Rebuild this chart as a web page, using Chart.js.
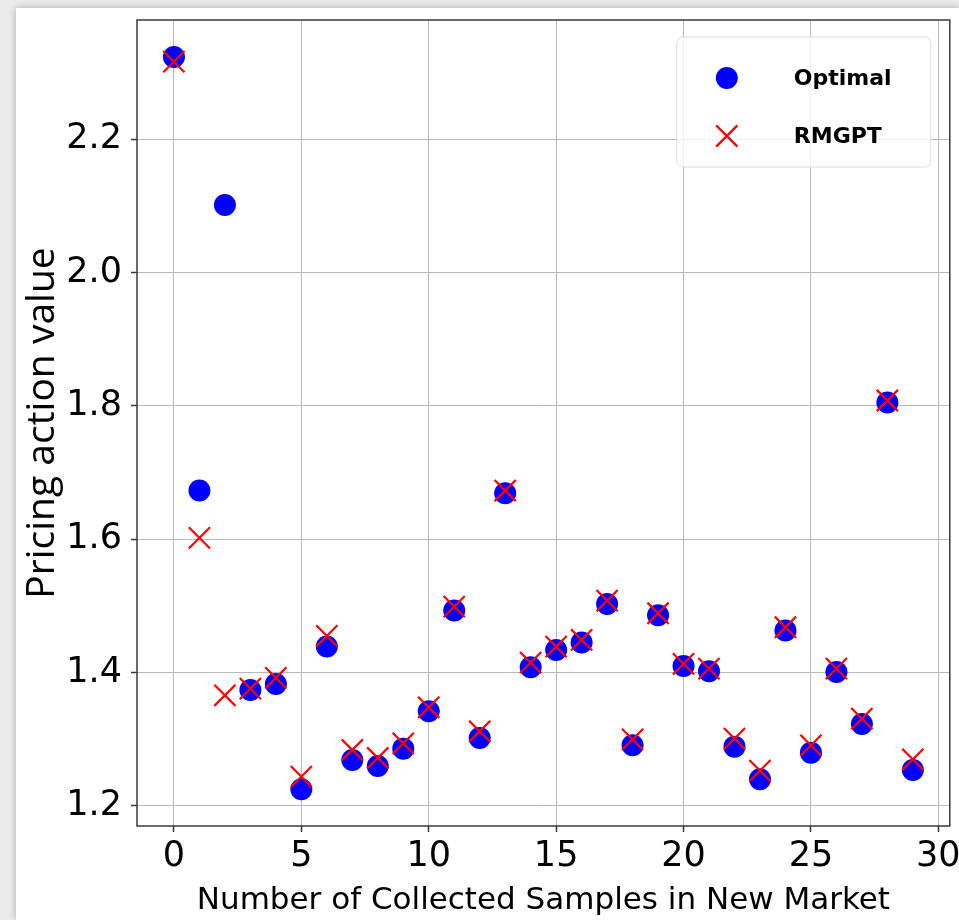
<!DOCTYPE html>
<html>
<head>
<meta charset="utf-8">
<script src="https://cdn.jsdelivr.net/npm/chart.js@4/dist/chart.umd.min.js"></script>
<style>
  html, body { margin: 0; padding: 0; background: #ebebeb; overflow: hidden; }
  #card {
    position: absolute; left: 16px; top: 8px; width: 943px; height: 912px;
    background: #fff; box-shadow: 0 0 7px rgba(0,0,0,0.28); overflow: hidden;
  }
  #pricingChart { position: absolute; left: 0; top: -18px; }
</style>
</head>
<body>
<div id="card"><canvas id="pricingChart" width="951" height="930"></canvas></div>
<script>
const samples = [0, 1, 2, 3, 4, 5, 6, 7, 8, 9, 10, 11, 12, 13, 14, 15, 16, 17, 18, 19, 20, 21, 22, 23, 24, 25, 26, 27, 28, 29];
const optimal = [2.323, 1.673, 2.101, 1.374, 1.383, 1.225, 1.439, 1.269, 1.260, 1.286, 1.342, 1.493, 1.302, 1.669, 1.408,
                 1.434, 1.445, 1.503, 1.291, 1.486, 1.410, 1.402, 1.289, 1.240, 1.463, 1.280, 1.401, 1.323, 1.805, 1.254];
const rmgpt = [2.316, 1.602, 1.366, 1.376, 1.392, 1.244, 1.455, 1.284, 1.272, 1.294, 1.348, 1.499, 1.312, 1.673, 1.415,
               1.439, 1.449, 1.508, 1.300, 1.489, 1.413, 1.406, 1.301, 1.253, 1.468, 1.291, 1.406, 1.331, 1.808, 1.270];
const xTicks = [0, 5, 10, 15, 20, 25, 30];
const yTicks = [1.2, 1.4, 1.6, 1.8, 2.0, 2.2];

const tickFont = { family: 'DejaVu Sans', size: 35 };

// frame around the plot area, like matplotlib spines
const framePlugin = {
    id: 'frame',
    afterDraw(chart) {
        const { ctx, chartArea: a } = chart;
        ctx.save();
        ctx.strokeStyle = '#3a3a3a';
        ctx.lineWidth = 1.5;
        ctx.strokeRect(a.left, a.top, a.right - a.left, a.bottom - a.top);
        ctx.restore();
    }
};

// legend box in the upper right corner of the plot
const legendPlugin = {
    id: 'boxLegend',
    afterDraw(chart) {
        const { ctx, chartArea: a } = chart;
        const bx = a.right - 273, by = a.top + 17, bw = 254, bh = 130;
        ctx.save();
        ctx.beginPath();
        ctx.roundRect(bx, by, bw, bh, 6);
        ctx.fillStyle = 'rgba(255,255,255,0.8)';
        ctx.fill();
        ctx.strokeStyle = '#dcdcdc';
        ctx.lineWidth = 1;
        ctx.stroke();

        chart.data.datasets.forEach((ds, i) => {
            const mx = bx + 50, my = by + 41 + i * 58;
            if (ds.pointStyle === 'circle') {
                ctx.beginPath();
                ctx.arc(mx, my, ds.pointRadius, 0, Math.PI * 2);
                ctx.fillStyle = ds.backgroundColor;
                ctx.fill();
            } else {
                const d = ds.pointRadius * Math.SQRT1_2;
                ctx.beginPath();
                ctx.moveTo(mx - d, my - d); ctx.lineTo(mx + d, my + d);
                ctx.moveTo(mx - d, my + d); ctx.lineTo(mx + d, my - d);
                ctx.strokeStyle = ds.borderColor;
                ctx.lineWidth = ds.borderWidth;
                ctx.stroke();
            }
            ctx.fillStyle = '#000';
            ctx.font = 'bold 22px "DejaVu Sans"';
            ctx.textBaseline = 'middle';
            ctx.fillText(ds.label, bx + 117, my + 1);
        });
        ctx.restore();
    }
};

const ctx = document.getElementById('pricingChart').getContext('2d');
const myChart = new Chart(ctx, {
    type: 'scatter',
    data: {
        datasets: [
            {
                label: 'Optimal',
                data: samples.map((s, i) => ({ x: s, y: optimal[i] })),
                pointStyle: 'circle',
                pointRadius: 11,
                backgroundColor: '#0000ff',
                borderColor: '#0000ff',
                borderWidth: 0,
                order: 1
            },
            {
                label: 'RMGPT',
                data: samples.map((s, i) => ({ x: s, y: rmgpt[i] })),
                pointStyle: 'crossRot',
                pointRadius: 15,
                backgroundColor: '#ff0000',
                borderColor: '#ff0000',
                borderWidth: 2.2,
                order: 0
            }
        ]
    },
    options: {
        responsive: false,
        animation: false,
        events: [],
        layout: { padding: { left: 0, right: 10, top: 12, bottom: 0 } },
        plugins: {
            legend: { display: false },
            tooltip: { enabled: false }
        },
        scales: {
            x: {
                type: 'linear',
                min: -1.45,
                max: 30.45,
                afterBuildTicks: s => { s.ticks = xTicks.map(v => ({ value: v })); },
                afterFit: s => { s.height = 94; },
                grid: { color: '#b8b8b8', lineWidth: 1, tickLength: 6, tickColor: '#3a3a3a', tickWidth: 1.5 },
                border: { display: false },
                ticks: { font: tickFont, color: '#000', padding: 4, maxRotation: 0 },
                title: {
                    display: true,
                    text: 'Number of Collected Samples in New Market',
                    font: { family: 'DejaVu Sans', size: 31 },
                    color: '#000',
                    padding: { top: 0, bottom: 0 }
                }
            },
            y: {
                type: 'linear',
                min: 1.17,
                max: 2.3785,
                afterBuildTicks: s => { s.ticks = yTicks.map(v => ({ value: v })); },
                afterFit: s => { s.width = 121; },
                grid: { color: '#b8b8b8', lineWidth: 1, tickLength: 6, tickColor: '#3a3a3a', tickWidth: 1.5 },
                border: { display: false },
                ticks: {
                    font: tickFont,
                    color: '#000',
                    padding: 9,
                    callback: v => v.toFixed(1)
                },
                title: {
                    display: true,
                    text: 'Pricing action value',
                    font: { family: 'Open Sans', size: 39 },
                    color: '#000',
                    padding: { top: 3, bottom: 0 }
                }
            }
        }
    },
    plugins: [framePlugin, legendPlugin]
});
</script>
</body>
</html>
